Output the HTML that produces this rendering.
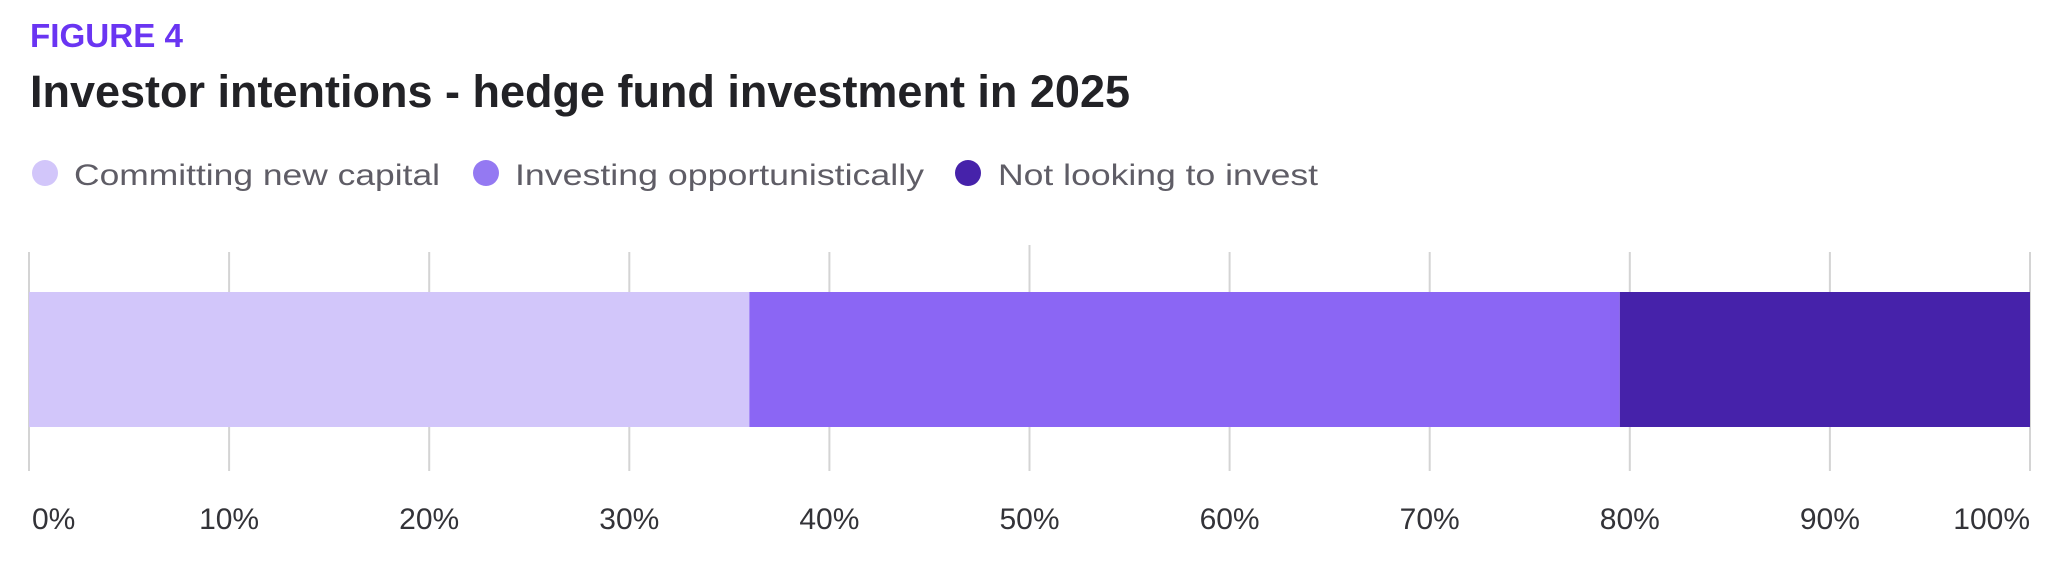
<!DOCTYPE html>
<html><head><meta charset="utf-8"><style>
html,body{margin:0;padding:0;background:#fff;}
svg{display:block;font-family:"Liberation Sans",sans-serif;}
</style></head><body>
<svg id="chart" width="2060" height="562" viewBox="0 0 2060 562" xmlns="http://www.w3.org/2000/svg">
<text x="30" y="47" font-size="33" font-weight="bold" fill="#6a35f2" textLength="153" lengthAdjust="spacingAndGlyphs">FIGURE 4</text>
<text x="30" y="107" font-size="45" font-weight="bold" fill="#222226" textLength="1100" lengthAdjust="spacingAndGlyphs">Investor intentions - hedge fund investment in 2025</text>
<g id="legend"></g>
<g id="grid"></g>
<g id="bars"></g>
<g id="ticks"></g>
</svg>
<script>
const categories = ["Committing new capital", "Investing opportunistically", "Not looking to invest"];
const values = [36, 43.5, 20.5];
const tickValues = [0, 10, 20, 30, 40, 50, 60, 70, 80, 90, 100];
const tickLabels = ["0%", "10%", "20%", "30%", "40%", "50%", "60%", "70%", "80%", "90%", "100%"];

const colors = ["#d2c6fa", "#8b66f4", "#4622aa"];
const legendDotColors = ["#d2c6fa", "#9479f2", "#4622aa"];
const NS = "http://www.w3.org/2000/svg";
const x0 = 29, x1 = 2030;
function xScale(v){ return x0 + (x1 - x0) * v / 100; }
function mk(tag, attrs, parent){ const e = document.createElementNS(NS, tag); for (const k in attrs) e.setAttribute(k, attrs[k]); parent.appendChild(e); return e; }

// legend
const legend = document.getElementById('legend');
const legendDots = [45, 486, 968];
const legendText = [[74, 366], [515, 409], [998, 320]];
categories.forEach((c, i) => {
  const d = mk('circle', {cx: legendDots[i], cy: 173, r: 13, fill: legendDotColors[i]}, legend);
  
  
  const t = mk('text', {x: legendText[i][0], y: 185, 'font-size': 30, fill: '#5f5d66', textLength: legendText[i][1], lengthAdjust: 'spacingAndGlyphs'}, legend);
  t.textContent = c;
  
  
});

// grid
const grid = document.getElementById('grid');
tickValues.forEach(v => {
  const l = mk('line', {x1: xScale(v), x2: xScale(v), y1: v === 50 ? 245 : 252, y2: 471, stroke: '#d4d4d4', 'stroke-width': 2}, grid);
  
  
});

// bars
const bars = document.getElementById('bars');
let acc = 0;
values.forEach((v, i) => {
  const r = mk('rect', {x: xScale(acc), y: 292, width: xScale(acc + v) - xScale(acc), height: 135, fill: colors[i]}, bars);
  
  
  acc += v;
});

// tick labels
const ticks = document.getElementById('ticks');
tickValues.forEach((v, i) => {
  let anchor = 'middle', x = xScale(v);
  if (i === 0) { anchor = 'start'; x = 32; }
  if (i === tickValues.length - 1) { anchor = 'end'; x = 2030; }
  const t = mk('text', {x: x, y: 529, 'font-size': 30, fill: '#333338', 'text-anchor': anchor}, ticks);
  t.textContent = tickLabels[i];
  
  
});
</script>
</body></html>
